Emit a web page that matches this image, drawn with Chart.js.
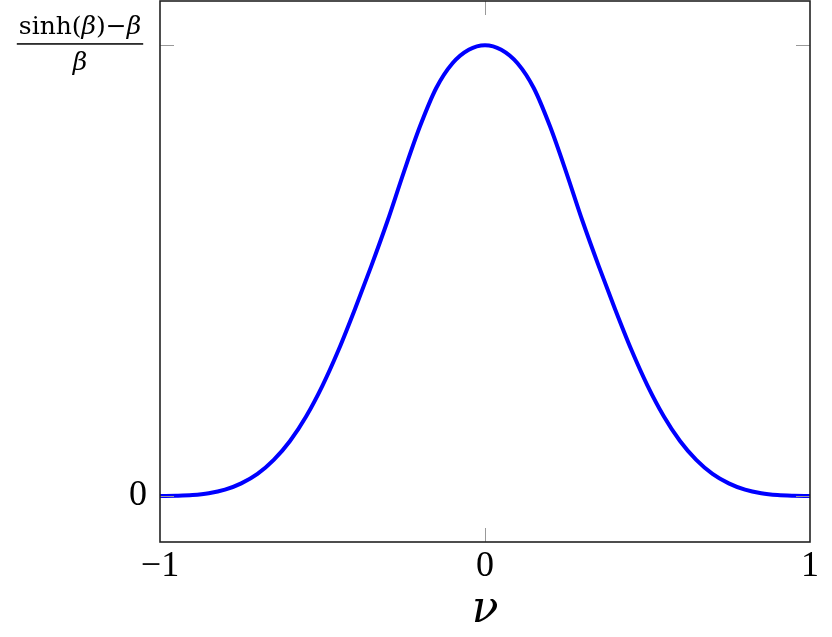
<!DOCTYPE html>
<html>
<head>
<meta charset="utf-8">
<script src="https://cdn.jsdelivr.net/npm/chart.js@4/dist/chart.umd.min.js"></script>
<style>
  html, body { margin: 0; padding: 0; background: #fff; }
  #wrap { width: 832px; height: 637px; }
</style>
</head>
<body>
<div id="wrap"><canvas id="myChart" width="832" height="637"></canvas></div>
<script>
// values, y scaled so that the peak (sinh(b)-b)/b = 1
const nu = [-1, -0.95, -0.9, -0.85, -0.8, -0.75, -0.7, -0.65, -0.6, -0.55, -0.5,
            -0.45, -0.4, -0.35, -0.3, -0.25, -0.2, -0.15, -0.1, -0.05, 0,
            0.05, 0.1, 0.15, 0.2, 0.25, 0.3, 0.35, 0.4, 0.45, 0.5,
            0.55, 0.6, 0.65, 0.7, 0.75, 0.8, 0.85, 0.9, 0.95, 1]
const curve = [0, 0.0005, 0.002, 0.006, 0.014, 0.028, 0.049, 0.08, 0.122, 0.177, 0.245,
               0.325, 0.415, 0.51, 0.61, 0.718, 0.82, 0.905, 0.96, 0.99, 1,
               0.99, 0.96, 0.905, 0.82, 0.718, 0.61, 0.51, 0.415, 0.325, 0.245,
               0.177, 0.122, 0.08, 0.049, 0.028, 0.014, 0.006, 0.002, 0.0005, 0]
const xTicks = [-1, 0, 1]
const yTicks = [0, 1]

const serif = '"Liberation Serif", "DejaVu Serif", serif'
const fracFont = '"DejaVu Serif", serif'

// frame, inward tick marks and the fraction label on the top y tick
const framePlugin = {
  id: 'frame',
  afterDraw(chart) {
    const {ctx, chartArea: a, scales} = chart
    ctx.save()
    ctx.strokeStyle = '#999'
    ctx.lineWidth = 1
    xTicks.forEach(v => {
      if (v === -1 || v === 1) return
      const px = Math.round(scales.x.getPixelForValue(v)) + 0.5
      ctx.beginPath()
      ctx.moveTo(px, a.bottom); ctx.lineTo(px, a.bottom - 14)
      ctx.moveTo(px, a.top); ctx.lineTo(px, a.top + 14)
      ctx.stroke()
    })
    yTicks.forEach(v => {
      const py = Math.round(scales.y.getPixelForValue(v)) + 0.5
      ctx.beginPath()
      ctx.moveTo(a.left, py); ctx.lineTo(a.left + 14, py)
      ctx.moveTo(a.right, py); ctx.lineTo(a.right - 14, py)
      ctx.stroke()
    })
    ctx.strokeStyle = '#222'
    ctx.lineWidth = 1.6
    ctx.strokeRect(a.left, a.top, a.right - a.left, a.bottom - a.top)

    // fraction label at y = 1
    const fy = scales.y.getPixelForValue(1)
    const cx = 80
    ctx.fillStyle = '#000'
    ctx.textBaseline = 'alphabetic'
    const parts = [['sinh(', false], ['β', true], [')−', false], ['β', true]]
    const fnt = it => (it ? 'italic ' : '') + '25px ' + fracFont
    let w = 0
    parts.forEach(p => { ctx.font = fnt(p[1]); w += ctx.measureText(p[0]).width })
    let x0 = cx - w / 2
    ctx.textAlign = 'left'
    parts.forEach(p => {
      ctx.font = fnt(p[1])
      ctx.fillText(p[0], x0, fy - 11)
      x0 += ctx.measureText(p[0]).width
    })
    ctx.fillRect(cx - w / 2 - 2, fy - 2, w + 4, 1.5)
    ctx.textAlign = 'center'
    ctx.font = fnt(true)
    ctx.fillText('β', cx, fy + 25)
    ctx.restore()
  }
}

const ctx = document.getElementById('myChart').getContext('2d')

let myChart = new Chart(ctx, {
  type: 'line',
  data: {
    datasets: [{
      data: nu.map((x, i) => ({x: x, y: curve[i]})),
      borderColor: '#0000ff',
      borderWidth: 4,
      pointRadius: 0,
      cubicInterpolationMode: 'monotone',
      fill: false
    }]
  },
  options: {
    responsive: false,
    animation: false,
    layout: {padding: {top: 1, right: 22, left: 0, bottom: 0}},
    plugins: {legend: {display: false}, tooltip: {enabled: false}},
    scales: {
      x: {
        type: 'linear',
        min: -1, max: 1,
        afterBuildTicks: s => { s.ticks = xTicks.map(v => ({value: v})) },
        afterFit: s => { s.height = 95; s.paddingLeft = 0; s.paddingRight = 0 },
        grid: {display: false},
        border: {display: false},
        ticks: {
          color: '#000',
          font: {family: serif, size: 36},
          padding: -5,
          maxRotation: 0,
          callback: v => v < 0 ? '−' + Math.abs(v) : String(v)
        },
        title: {
          display: true,
          text: 'ν',
          color: '#000',
          font: {family: fracFont, size: 44, style: 'italic'},
          padding: {top: 0, bottom: 0}
        }
      },
      y: {
        min: -0.102, max: 1.098,
        afterBuildTicks: s => { s.ticks = yTicks.map(v => ({value: v})) },
        afterFit: s => { s.width = 160; s.paddingTop = 0; s.paddingBottom = 0 },
        grid: {display: false},
        border: {display: false},
        ticks: {
          color: '#000',
          font: {family: serif, size: 36},
          padding: 5,
          callback: v => v === 1 ? '' : String(v)
        }
      }
    }
  },
  plugins: [framePlugin]
})
</script>
</body>
</html>
